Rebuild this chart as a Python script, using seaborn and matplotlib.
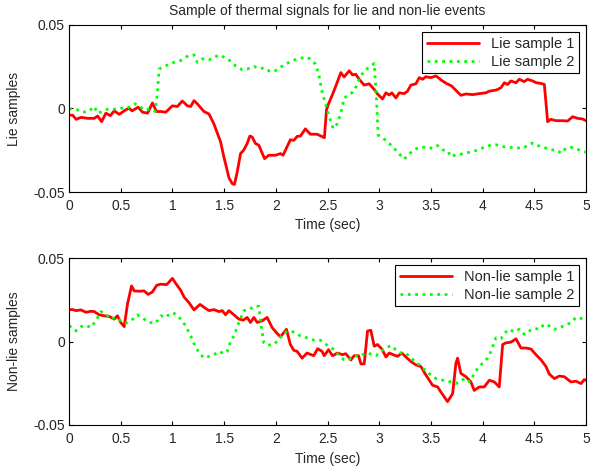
import matplotlib
matplotlib.use("Agg")
import matplotlib.pyplot as plt
import seaborn as sns

# -------------------- DATA --------------------
lie1_t = [0.0, 0.035, 0.07, 0.116, 0.18, 0.244, 0.277, 0.315, 0.357, 0.40, 0.437, 0.486, 0.534, 0.58, 0.61,
          0.669, 0.71, 0.76, 0.807, 0.846, 0.887, 0.936, 1.0, 1.048, 1.096, 1.145, 1.177, 1.209, 1.241, 1.305,
          1.354, 1.402, 1.466, 1.498, 1.547, 1.579, 1.60, 1.627, 1.659, 1.691, 1.723, 1.749, 1.772, 1.804,
          1.836, 1.891, 1.932, 1.997, 2.045, 2.07, 2.141, 2.174, 2.206, 2.238, 2.286, 2.334, 2.399, 2.47,
          2.49, 2.51, 2.548, 2.58, 2.629, 2.661, 2.71, 2.742, 2.774, 2.806, 2.855, 2.903, 2.952, 2.984, 3.032,
          3.065, 3.097, 3.123, 3.161, 3.194, 3.242, 3.274, 3.306, 3.355, 3.387, 3.42, 3.45, 3.5, 3.55, 3.6,
          3.65, 3.70, 3.74, 3.79, 3.839, 3.903, 3.968, 4.032, 4.065, 4.129, 4.177, 4.21, 4.242, 4.274, 4.323,
          4.355, 4.403, 4.435, 4.484, 4.52, 4.565, 4.597, 4.629, 4.66, 4.71, 4.774, 4.823, 4.871, 4.919,
          4.968, 5.0]
lie1_v = [-0.004, -0.004, -0.0065, -0.0053, -0.0059, -0.0059, -0.0045, -0.0079, -0.0028, -0.0043, -0.0014,
          -0.0035, -0.0014, 0.0002, -0.0014, 0.0008, -0.0022, -0.0028, 0.0033, -0.0018, -0.0018, -0.0022,
          0.0016, 0.0012, 0.0045, 0.0016, 0.0012, 0.0047, 0.0028, -0.0018, -0.0033, -0.0093, -0.020, -0.029,
          -0.0415, -0.045, -0.0455, -0.038, -0.027, -0.0248, -0.021, -0.0165, -0.0171, -0.021, -0.022, -0.030,
          -0.028, -0.028, -0.027, -0.028, -0.0187, -0.0191, -0.0167, -0.0165, -0.0122, -0.0154, -0.0154,
          -0.0175, -0.0008, 0.0028, 0.0083, 0.0134, 0.0215, 0.0189, 0.0226, 0.0201, 0.0205, 0.0175, 0.014,
          0.0148, 0.0114, 0.0087, 0.0057, 0.0094, 0.0081, 0.0094, 0.0063, 0.0094, 0.0089, 0.0104, 0.014,
          0.0148, 0.0185, 0.0175, 0.019, 0.0185, 0.0195, 0.017, 0.015, 0.0135, 0.011, 0.0079, 0.0087, 0.0083,
          0.0089, 0.0094, 0.0104, 0.011, 0.0124, 0.0154, 0.0144, 0.0165, 0.0154, 0.0175, 0.0161, 0.0175,
          0.0165, 0.0154, 0.015, 0.0144, -0.0079, -0.0065, -0.0073, -0.0073, -0.0075, -0.0049, -0.0059,
          -0.0063, -0.0073]

lie2_t = [0.0, 0.035, 0.08, 0.13, 0.19, 0.244, 0.277, 0.325, 0.373, 0.437, 0.502, 0.566, 0.598, 0.637, 0.679,
          0.727, 0.79, 0.833, 0.855, 0.871, 0.90, 0.952, 1.016, 1.08, 1.129, 1.16, 1.209, 1.241, 1.29, 1.354,
          1.402, 1.46, 1.498, 1.547, 1.61, 1.675, 1.723, 1.788, 1.836, 1.891, 1.932, 1.98, 2.029, 2.077, 2.141,
          2.206, 2.286, 2.334, 2.383, 2.415, 2.45, 2.484, 2.516, 2.555, 2.597, 2.629, 2.661, 2.71, 2.758,
          2.806, 2.855, 2.903, 2.952, 2.974, 2.99, 3.032, 3.08, 3.129, 3.194, 3.242, 3.29, 3.339, 3.387,
          3.452, 3.516, 3.565, 3.613, 3.661, 3.694, 3.742, 3.806, 3.871, 3.935, 4.0, 4.065, 4.129, 4.194,
          4.258, 4.323, 4.387, 4.435, 4.484, 4.532, 4.58, 4.629, 4.677, 4.726, 4.76, 4.806, 4.855, 4.903,
          4.952, 5.0]
lie2_v = [0.0, -0.0004, -0.0008, -0.0022, -0.0018, 0.0012, -0.0028, -0.0018, -0.0004, -0.0004, 0.0002,
          0.0002, 0.0016, 0.0028, 0.0016, -0.0008, -0.0004, -0.0018, 0.0093, 0.0236, 0.0246, 0.026, 0.0276,
          0.0287, 0.0307, 0.0317, 0.0321, 0.0276, 0.0297, 0.0291, 0.0307, 0.0321, 0.0307, 0.0291, 0.0256,
          0.0232, 0.0236, 0.0252, 0.024, 0.0242, 0.0226, 0.022, 0.024, 0.026, 0.028, 0.0297, 0.0307, 0.0297,
          0.0266, 0.0205, 0.0093, 0.0022, -0.0049, -0.012, -0.0089, -0.0028, 0.0063, 0.0083, 0.0104, 0.0175,
          0.0226, 0.0246, 0.027, 0.0053, -0.016, -0.0175, -0.020, -0.0228, -0.0272, -0.0303, -0.0272,
          -0.0248, -0.0232, -0.0232, -0.0238, -0.0222, -0.0248, -0.0252, -0.0289, -0.0276, -0.0272, -0.0262,
          -0.0252, -0.0236, -0.0222, -0.0217, -0.0228, -0.0232, -0.0236, -0.0238, -0.0222, -0.0207, -0.0222,
          -0.0228, -0.0242, -0.0248, -0.0252, -0.0268, -0.0238, -0.0232, -0.0242, -0.0252, -0.0262]

nonlie1_t = [0.0, 0.035, 0.068, 0.116, 0.164, 0.212, 0.244, 0.293, 0.341, 0.389, 0.437, 0.469, 0.50, 0.534,
             0.566, 0.605, 0.63, 0.679, 0.727, 0.765, 0.807, 0.849, 0.887, 0.945, 1.0, 1.032, 1.08, 1.113,
             1.161, 1.209, 1.267, 1.305, 1.354, 1.402, 1.45, 1.482, 1.514, 1.547, 1.595, 1.643, 1.685, 1.723,
             1.756, 1.788, 1.82, 1.868, 1.916, 1.965, 2.006, 2.045, 2.103, 2.141, 2.174, 2.206, 2.254, 2.302,
             2.367, 2.405, 2.447, 2.468, 2.51, 2.548, 2.597, 2.645, 2.677, 2.726, 2.758, 2.80, 2.823, 2.855,
             2.887, 2.919, 2.952, 2.984, 3.026, 3.065, 3.097, 3.135, 3.177, 3.219, 3.258, 3.306, 3.355, 3.403,
             3.452, 3.516, 3.565, 3.597, 3.661, 3.71, 3.742, 3.758, 3.79, 3.839, 3.887, 3.919, 3.968, 4.016,
             4.065, 4.113, 4.161, 4.194, 4.226, 4.274, 4.323, 4.371, 4.419, 4.468, 4.516, 4.565, 4.613, 4.645,
             4.694, 4.742, 4.79, 4.855, 4.903, 4.952, 4.984, 5.0]
nonlie1_v = [0.0191, 0.0191, 0.0185, 0.0189, 0.0175, 0.0181, 0.0179, 0.016, 0.0154, 0.015, 0.0134, 0.0154,
             0.0114, 0.0089, 0.0226, 0.0333, 0.0303, 0.0301, 0.0303, 0.0282, 0.0297, 0.0337, 0.0343, 0.0341,
             0.0378, 0.0348, 0.0307, 0.0266, 0.0232, 0.0189, 0.0222, 0.0205, 0.0185, 0.0191, 0.0179, 0.0185,
             0.016, 0.0185, 0.016, 0.0134, 0.0128, 0.0144, 0.0114, 0.0144, 0.0114, 0.0124, 0.0144, 0.0083,
             0.0053, 0.0028, 0.0073, -0.0018, -0.0053, -0.0059, -0.010, -0.0069, -0.0085, -0.0043, -0.0059,
             -0.0085, -0.0049, -0.0085, -0.0069, -0.0079, -0.0073, -0.011, -0.0085, -0.0085, -0.0134, -0.0134,
             0.0063, 0.0067, -0.0028, -0.0018, -0.0045, -0.0093, -0.0069, -0.0079, -0.0089, -0.0069, -0.0093,
             -0.012, -0.014, -0.015, -0.0201, -0.0262, -0.0272, -0.0303, -0.036, -0.0313, -0.013, -0.010,
             -0.0191, -0.0211, -0.0242, -0.0293, -0.0272, -0.0272, -0.0232, -0.0242, -0.0272, -0.0018, -0.0008,
             -0.0004, 0.0016, -0.0039, -0.0039, -0.0045, -0.0079, -0.011, -0.015, -0.0195, -0.0222, -0.0207,
             -0.0211, -0.0242, -0.0238, -0.0252, -0.0228, -0.0232]

nonlie2_t = [0.0, 0.035, 0.068, 0.116, 0.164, 0.212, 0.26, 0.309, 0.357, 0.405, 0.453, 0.50, 0.55, 0.598,
             0.662, 0.727, 0.775, 0.839, 0.887, 0.936, 0.984, 1.032, 1.08, 1.129, 1.177, 1.225, 1.273, 1.312,
             1.354, 1.402, 1.45, 1.498, 1.53, 1.563, 1.595, 1.643, 1.691, 1.74, 1.788, 1.836, 1.859, 1.884,
             1.916, 1.98, 2.03, 2.077, 2.141, 2.19, 2.238, 2.302, 2.367, 2.431, 2.51, 2.565, 2.613, 2.661, 2.71,
             2.758, 2.806, 2.871, 2.919, 2.968, 3.016, 3.065, 3.113, 3.161, 3.21, 3.258, 3.306, 3.355, 3.403,
             3.452, 3.50, 3.548, 3.597, 3.645, 3.694, 3.742, 3.79, 3.839, 3.871, 3.903, 3.952, 4.0, 4.048,
             4.081, 4.129, 4.177, 4.21, 4.258, 4.306, 4.355, 4.403, 4.452, 4.50, 4.548, 4.597, 4.645, 4.694,
             4.742, 4.806, 4.855, 4.903, 4.952, 5.0]
nonlie2_v = [0.0093, 0.0083, 0.0063, 0.0089, 0.0097, 0.0083, 0.0124, 0.0179, 0.0165, 0.0134, 0.0144, 0.0124,
             0.011, 0.0124, 0.0159, 0.0134, 0.0114, 0.011, 0.0154, 0.0144, 0.0171, 0.0165, 0.0134, 0.0093,
             0.0033, -0.0035, -0.0079, -0.010, -0.0089, -0.0079, -0.0059, -0.0073, -0.0059, 0.0002, 0.0033,
             0.0114, 0.0185, 0.0189, 0.0211, 0.0211, 0.0093, -0.0008, -0.0022, -0.0018, 0.0012, 0.0053, 0.0063,
             0.0053, 0.0033, 0.0022, 0.0008, 0.0008, -0.0028, -0.0049, -0.0085, -0.011, -0.0106, -0.0085,
             -0.0089, -0.0069, -0.0075, -0.0085, -0.0059, -0.0039, -0.0024, -0.0049, -0.0069, -0.0069, -0.010,
             -0.012, -0.015, -0.0175, -0.0201, -0.0222, -0.0228, -0.0238, -0.0242, -0.0252, -0.0232, -0.0222,
             -0.0242, -0.0211, -0.016, -0.013, -0.010, -0.0059, 0.0022, 0.0016, 0.0049, 0.0073, 0.0057, 0.0073,
             0.0043, 0.0063, 0.0079, 0.0073, 0.0104, 0.0093, 0.0073, 0.0083, 0.0098, 0.0114, 0.0144, 0.0138,
             0.0124]

x_ticks = [0, 0.5, 1, 1.5, 2, 2.5, 3, 3.5, 4, 4.5, 5]
x_tick_labels = ["0", "0.5", "1", "1.5", "2", "2.5", "3", "3.5", "4", "4.5", "5"]
y_ticks = [-0.05, 0, 0.05]
y_tick_labels = ["-0.05", "0", "0.05"]

# -------------------- STYLE --------------------
sns.set_style("ticks")
plt.rcParams['font.family'] = ['Liberation Sans', 'DejaVu Sans']
plt.rcParams['xtick.direction'] = 'in'
plt.rcParams['ytick.direction'] = 'in'
plt.rcParams['xtick.top'] = True
plt.rcParams['ytick.right'] = True
plt.rcParams['xtick.major.size'] = 3
plt.rcParams['ytick.major.size'] = 3

FS = 10

fig = plt.figure(figsize=(5.92, 4.69), dpi=100)
ax_top = fig.add_axes([69 / 592, 1 - 192 / 469, 517 / 592, 167 / 469])
ax_bot = fig.add_axes([69 / 592, 1 - 425 / 469, 517 / 592, 167 / 469])

panels = [
    (ax_top, lie1_t, lie1_v, lie2_t, lie2_v, "Lie sample 1", "Lie sample 2", "Lie samples"),
    (ax_bot, nonlie1_t, nonlie1_v, nonlie2_t, nonlie2_v, "Non-lie sample 1", "Non-lie sample 2", "Non-lie samples"),
]

for ax, t1, v1, t2, v2, lab1, lab2, ylab in panels:
    sns.lineplot(x=t1, y=v1, ax=ax, color='#ff0000', lw=2, label=lab1, estimator=None, sort=False)
    sns.lineplot(x=t2, y=v2, ax=ax, color='#00ff00', lw=2, linestyle=':', label=lab2, estimator=None, sort=False)
    ax.set_xlim(0, 5)
    ax.set_ylim(-0.05, 0.05)
    ax.set_xticks(x_ticks)
    ax.set_xticklabels(x_tick_labels, fontsize=FS)
    ax.set_yticks(y_ticks)
    ax.set_yticklabels(y_tick_labels, fontsize=FS)
    ax.set_xlabel("Time (sec)", fontsize=FS, labelpad=4)
    ax.set_ylabel(ylab, fontsize=FS, labelpad=9)
    ax.tick_params(axis='x', pad=5, width=0.8, color='black')
    ax.tick_params(axis='y', pad=3, width=0.8, color='black')
    for s in ax.spines.values():
        s.set_linewidth(0.8)
        s.set_color('black')
    leg = ax.legend(loc='upper right', fontsize=FS + 0.5, fancybox=False, edgecolor='black', framealpha=1,
                    handlelength=3.6, borderaxespad=0.5, borderpad=0.3, labelspacing=0.3)
    leg.get_frame().set_linewidth(0.8)

ax_top.set_title("Sample of thermal signals for lie and non-lie events", fontsize=FS, pad=7)

fig.savefig("out.png", dpi=100)
